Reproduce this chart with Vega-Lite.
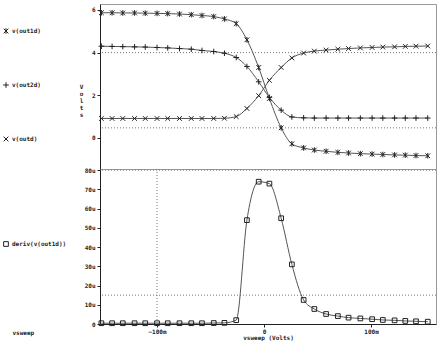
{
  "$schema": "https://vega.github.io/schema/vega-lite/v6.json",
  "padding": {"left": 2, "top": 3, "right": 4, "bottom": 0},
  "background": "white",
  "spacing": 0,
  "bounds": "flush",
  "datasets": {
    "volts": [
      {"x": -0.152, "out1d": 5.87, "out2d": 4.30, "outd": 0.91},
      {"x": -0.142, "out1d": 5.87, "out2d": 4.29, "outd": 0.91},
      {"x": -0.132, "out1d": 5.86, "out2d": 4.28, "outd": 0.91},
      {"x": -0.121, "out1d": 5.86, "out2d": 4.27, "outd": 0.91},
      {"x": -0.111, "out1d": 5.85, "out2d": 4.26, "outd": 0.91},
      {"x": -0.100, "out1d": 5.84, "out2d": 4.24, "outd": 0.91},
      {"x": -0.090, "out1d": 5.83, "out2d": 4.22, "outd": 0.91},
      {"x": -0.079, "out1d": 5.81, "out2d": 4.19, "outd": 0.91},
      {"x": -0.068, "out1d": 5.78, "out2d": 4.16, "outd": 0.91},
      {"x": -0.058, "out1d": 5.74, "out2d": 4.10, "outd": 0.91},
      {"x": -0.047, "out1d": 5.69, "out2d": 4.05, "outd": 0.91},
      {"x": -0.037, "out1d": 5.58, "out2d": 3.97, "outd": 0.92},
      {"x": -0.026, "out1d": 5.36, "out2d": 3.77, "outd": 1.00},
      {"x": -0.016, "out1d": 4.60, "out2d": 3.35, "outd": 1.38},
      {"x": -0.005, "out1d": 3.30, "out2d": 2.63, "outd": 1.98},
      {"x": 0.005, "out1d": 1.85, "out2d": 1.90, "outd": 2.70},
      {"x": 0.016, "out1d": 0.47, "out2d": 1.30, "outd": 3.30},
      {"x": 0.026, "out1d": -0.28, "out2d": 0.98, "outd": 3.75},
      {"x": 0.037, "out1d": -0.47, "out2d": 0.94, "outd": 3.98},
      {"x": 0.047, "out1d": -0.57, "out2d": 0.93, "outd": 4.07},
      {"x": 0.058, "out1d": -0.63, "out2d": 0.93, "outd": 4.12},
      {"x": 0.069, "out1d": -0.68, "out2d": 0.93, "outd": 4.16},
      {"x": 0.079, "out1d": -0.71, "out2d": 0.93, "outd": 4.19},
      {"x": 0.090, "out1d": -0.74, "out2d": 0.93, "outd": 4.22},
      {"x": 0.101, "out1d": -0.76, "out2d": 0.93, "outd": 4.24},
      {"x": 0.111, "out1d": -0.78, "out2d": 0.93, "outd": 4.26},
      {"x": 0.122, "out1d": -0.80, "out2d": 0.93, "outd": 4.27},
      {"x": 0.132, "out1d": -0.81, "out2d": 0.93, "outd": 4.29},
      {"x": 0.142, "out1d": -0.83, "out2d": 0.93, "outd": 4.30},
      {"x": 0.153, "out1d": -0.84, "out2d": 0.93, "outd": 4.31}
    ],
    "deriv": [
      {"x": -0.152, "d": 0.4}, {"x": -0.142, "d": 0.4}, {"x": -0.132, "d": 0.4},
      {"x": -0.121, "d": 0.4}, {"x": -0.111, "d": 0.4}, {"x": -0.100, "d": 0.4},
      {"x": -0.090, "d": 0.4}, {"x": -0.079, "d": 0.4}, {"x": -0.068, "d": 0.4},
      {"x": -0.058, "d": 0.4}, {"x": -0.047, "d": 0.5}, {"x": -0.037, "d": 0.6},
      {"x": -0.026, "d": 2.0}, {"x": -0.016, "d": 54}, {"x": -0.005, "d": 74},
      {"x": 0.005, "d": 73}, {"x": 0.016, "d": 55}, {"x": 0.026, "d": 31},
      {"x": 0.037, "d": 12.5}, {"x": 0.047, "d": 7.8}, {"x": 0.058, "d": 5.2},
      {"x": 0.069, "d": 4.1}, {"x": 0.079, "d": 3.3}, {"x": 0.090, "d": 2.9},
      {"x": 0.101, "d": 2.5}, {"x": 0.111, "d": 2.1}, {"x": 0.122, "d": 1.9},
      {"x": 0.132, "d": 1.6}, {"x": 0.142, "d": 1.4}, {"x": 0.153, "d": 1.2}
    ],
    "gridTop": [{"y": 4}, {"y": 0.47}],
    "gridBot": [{"y": 15}, {"y": 80}],
    "gridBotV": [{"x": -0.1}]
  },
  "title": {"text": "vsweep", "orient": "bottom", "anchor": "start", "frame": "bounds", "fontSize": 6, "font": "DejaVu Sans Mono", "fontWeight": "bold", "color": "#222", "dx": 10, "dy": -15},
  "vconcat": [
    {
      "width": 336,
      "height": 165,
      "layer": [
        {
          "data": {"name": "gridTop"},
          "mark": {"type": "rule", "strokeDash": [1, 2], "color": "#777", "strokeWidth": 1},
          "encoding": {
            "y": {"field": "y", "type": "quantitative", "scale": {"domain": [-1.46, 6.28], "nice": false, "zero": false},
                  "axis": {"values": [0, 2, 4, 6], "title": ["V", "o", "l", "t", "s"], "titleAngle": 0, "titleAlign": "center", "titleBaseline": "middle", "titleX": -19, "titleY": 82, "titleLineHeight": 7, "grid": false, "labelOverlap": false, "labelBound": false, "zindex": 5}}
          }
        },
        {
          "data": {"name": "volts"},
          "transform": [{"fold": ["out1d", "out2d", "outd"], "as": ["s", "y"]}],
          "mark": {"type": "line", "interpolate": "monotone", "color": "#555", "strokeWidth": 1},
          "encoding": {
            "x": {"field": "x", "type": "quantitative", "scale": {"domain": [-0.1533, 0.1607], "nice": false, "zero": false}, "axis": null},
            "y": {"field": "y", "type": "quantitative", "scale": {"domain": [-1.46, 6.28], "nice": false, "zero": false},
                  "axis": {"values": [0, 2, 4, 6], "title": ["V", "o", "l", "t", "s"], "titleAngle": 0, "titleAlign": "center", "titleBaseline": "middle", "titleX": -19, "titleY": 82, "titleLineHeight": 7, "grid": false, "labelOverlap": false, "labelBound": false, "zindex": 5}},
            "detail": {"field": "s"}
          }
        },
        {
          "data": {"name": "volts"},
          "transform": [{"fold": ["out1d", "out2d", "outd"], "as": ["s", "y"]}],
          "mark": {"type": "point", "filled": false, "color": "#222", "size": 22, "strokeWidth": 1, "opacity": 1},
          "encoding": {
            "x": {"field": "x", "type": "quantitative", "scale": {"domain": [-0.1533, 0.1607], "nice": false, "zero": false}, "axis": null},
            "y": {"field": "y", "type": "quantitative", "scale": {"domain": [-1.46, 6.28], "nice": false, "zero": false},
                  "axis": {"values": [0, 2, 4, 6], "title": ["V", "o", "l", "t", "s"], "titleAngle": 0, "titleAlign": "center", "titleBaseline": "middle", "titleX": -19, "titleY": 82, "titleLineHeight": 7, "grid": false, "labelOverlap": false, "labelBound": false, "zindex": 5}},
            "shape": {"field": "s", "type": "nominal",
                      "scale": {"domain": ["out1d", "out2d", "outd"], "range": ["M-1,-1L1,1M-1,1L1,-1M0,-1.2L0,1.2", "M-1.2,0L1.2,0M0,-1.2L0,1.2", "M-1,-1L1,1M-1,1L1,-1"]},
                      "legend": {"orient": "none", "legendX": -97, "legendY": 24, "rowPadding": 44, "title": null, "labelExpr": "'v(' + datum.label + ')'", "padding": 0}}
          }
        }
      ]
    },
    {
      "width": 336,
      "height": 155,
      "layer": [
        {
          "data": {"name": "gridBot"},
          "mark": {"type": "rule", "strokeDash": [1, 2], "color": "#777", "strokeWidth": 1},
          "encoding": {
            "y": {"field": "y", "type": "quantitative", "scale": {"domain": [0, 80.6], "nice": false, "zero": false},
                  "axis": {"values": [0, 10, 20, 30, 40, 50, 60, 70, 80], "labelExpr": "datum.value == 0 ? '0' : datum.value + 'u'", "title": null, "grid": false, "labelOverlap": false, "labelBound": false, "zindex": 5}}
          }
        },
        {
          "data": {"name": "gridBotV"},
          "mark": {"type": "rule", "strokeDash": [1, 2], "color": "#777", "strokeWidth": 1},
          "encoding": {
            "x": {"field": "x", "type": "quantitative", "scale": {"domain": [-0.1533, 0.1607], "nice": false, "zero": false},
                  "axis": {"values": [-0.1, 0, 0.1], "labelExpr": "datum.value == 0 ? '0' : format(datum.value * 1000, 'd') + 'm'", "title": "vsweep (Volts)", "grid": false, "titlePadding": 0, "labelPadding": 1, "zindex": 5}}
          }
        },
        {
          "data": {"name": "deriv"},
          "mark": {"type": "line", "interpolate": "monotone", "color": "#555", "strokeWidth": 1},
          "encoding": {
            "x": {"field": "x", "type": "quantitative", "scale": {"domain": [-0.1533, 0.1607], "nice": false, "zero": false},
                  "axis": {"values": [-0.1, 0, 0.1], "labelExpr": "datum.value == 0 ? '0' : format(datum.value * 1000, 'd') + 'm'", "title": "vsweep (Volts)", "grid": false, "titlePadding": 0, "labelPadding": 1, "zindex": 5}},
            "y": {"field": "d", "type": "quantitative", "scale": {"domain": [0, 80.6], "nice": false, "zero": false},
                  "axis": {"values": [0, 10, 20, 30, 40, 50, 60, 70, 80], "labelExpr": "datum.value == 0 ? '0' : datum.value + 'u'", "title": null, "grid": false, "labelOverlap": false, "labelBound": false, "zindex": 5}}
          }
        },
        {
          "data": {"name": "deriv"},
          "mark": {"type": "point", "filled": false, "color": "#222", "size": 22, "strokeWidth": 1, "opacity": 1},
          "encoding": {
            "x": {"field": "x", "type": "quantitative", "scale": {"domain": [-0.1533, 0.1607], "nice": false, "zero": false},
                  "axis": {"values": [-0.1, 0, 0.1], "labelExpr": "datum.value == 0 ? '0' : format(datum.value * 1000, 'd') + 'm'", "title": "vsweep (Volts)", "grid": false, "titlePadding": 0, "labelPadding": 1, "zindex": 5}},
            "y": {"field": "d", "type": "quantitative", "scale": {"domain": [0, 80.6], "nice": false, "zero": false},
                  "axis": {"values": [0, 10, 20, 30, 40, 50, 60, 70, 80], "labelExpr": "datum.value == 0 ? '0' : datum.value + 'u'", "title": null, "grid": false, "labelOverlap": false, "labelBound": false, "zindex": 5}},
            "shape": {"datum": "deriv(v(out1d))", "type": "nominal",
                      "scale": {"range": ["square"]},
                      "legend": {"orient": "none", "legendX": -97, "legendY": 72, "title": null, "padding": 0}}
          }
        }
      ]
    }
  ],
  "resolve": {"scale": {"shape": "independent"}, "legend": {"shape": "independent"}},
  "config": {
    "font": "DejaVu Sans Mono",
    "view": {"stroke": "#999", "strokeWidth": 1},
    "axis": {
      "labelFont": "DejaVu Sans Mono", "labelFontSize": 6, "labelFontWeight": "bold", "labelColor": "#222",
      "titleFont": "DejaVu Sans Mono", "titleFontSize": 6, "titleFontWeight": "bold", "titleColor": "#222",
      "domainColor": "#222", "tickColor": "#222", "tickSize": 3, "labelPadding": 2, "labelFlush": false, "labelOverlap": false
    },
    "legend": {
      "labelFont": "DejaVu Sans Mono", "labelFontSize": 6, "labelFontWeight": "bold", "labelColor": "#222",
      "symbolSize": 22, "symbolStrokeWidth": 1, "symbolStrokeColor": "#222", "symbolFillColor": "transparent", "labelOffset": 3
    }
  }
}
